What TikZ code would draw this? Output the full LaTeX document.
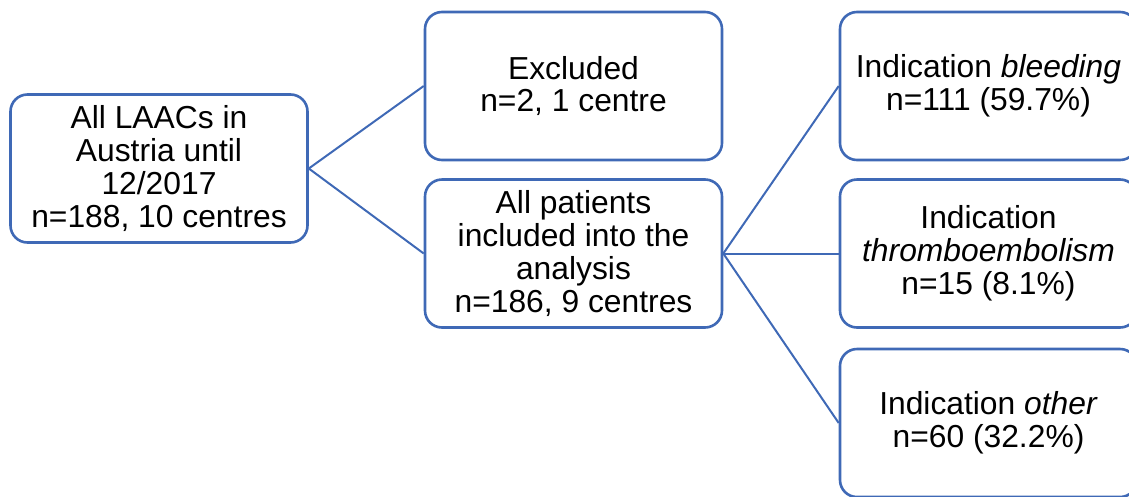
\documentclass[tikz,border=0pt]{standalone}
\usepackage{fontspec}
\setmainfont{Liberation Sans}
\definecolor{boxblue}{HTML}{3F69B6}
\tikzset{
  fbox/.style={draw=boxblue, line width=2.6pt, rounded corners=17pt, fill=white,
    minimum width=297pt, minimum height=148pt, align=center, inner sep=0pt,
    font=\fontsize{31.8}{32.8}\selectfont},
  conn/.style={draw=boxblue, line width=2pt}
}
\begin{document}
\begin{tikzpicture}[x=1pt,y=-1pt]
\useasboundingbox (0,0) rectangle (1129,496);
\clip (0,0) rectangle (1129,496);
\node[fbox] (all) at (159,168.5) {All LAACs in\\Austria until\\12/2017\\n=188, 10 centres};
\node[fbox] (exc) at (573.5,86) {Excluded\\n=2, 1 centre};
\node[fbox] (inc) at (573.5,253.5) {All patients\\included into the\\analysis\\n=186, 9 centres};
\node[fbox] (ble) at (988.5,86) {Indication \textit{bleeding}\\n=111 (59.7\%)};
\node[fbox] (thr) at (988.5,253.5) {Indication\\\textit{thromboembolism}\\n=15 (8.1\%)};
\node[fbox] (oth) at (988.5,423) {Indication \textit{other}\\n=60 (32.2\%)};
\draw[conn] (all.east) -- (exc.west);
\draw[conn] (all.east) -- (inc.west);
\draw[conn] (inc.east) -- (ble.west);
\draw[conn] (inc.east) -- (thr.west);
\draw[conn] (inc.east) -- (oth.west);
\end{tikzpicture}
\end{document}
